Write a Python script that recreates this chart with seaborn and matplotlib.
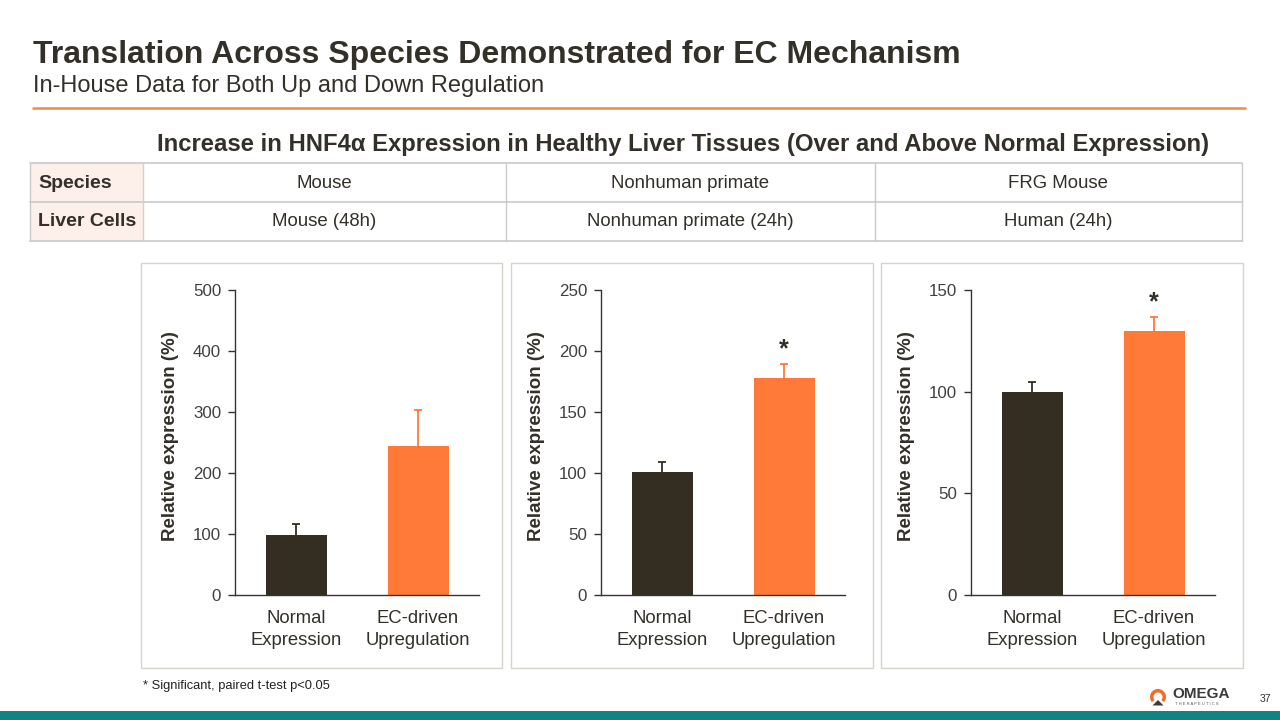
import numpy as np
import pandas as pd
import seaborn as sns
import matplotlib.pyplot as plt
from matplotlib.patches import Rectangle, Wedge, Polygon
from matplotlib.lines import Line2D

sns.set_theme(style="white")
plt.rcParams["font.family"] = ["Liberation Sans", "DejaVu Sans"]

# data
categories = ["Normal\nExpression", "EC-driven\nUpregulation"]
mouse_values = [98, 244]
mouse_err = [18, 59]
nhp_values = [101, 178]
nhp_err = [8, 11]
frg_values = [100, 130]
frg_err = [5, 6.5]
y_maxes = [500, 250, 150]
y_steps = [100, 50, 50]
significant = [False, True, True]

species_row = ["Mouse", "Nonhuman primate", "FRG Mouse"]
cells_row = ["Mouse (48h)", "Nonhuman primate (24h)", "Human (24h)"]

DARK = "#332E21"
ORANGE = "#FF7A39"
TEXT = "#333029"
GRAY = "#404040"

W, H = 1280, 720
fig = plt.figure(figsize=(12.8, 7.2), dpi=100)


def fx(x):
    return x / W


def fy(y):
    return 1 - y / H


def px_axes(x0, y0, x1, y1):
    return [fx(x0), fy(y1), fx(x1) - fx(x0), fy(y0) - fy(y1)]


# header
fig.text(fx(33), fy(55), "Translation Across Species Demonstrated for EC Mechanism",
         fontsize=23, fontweight="bold", color=TEXT, va="center", ha="left")
fig.text(fx(33), fy(86), "In-House Data for Both Up and Down Regulation",
         fontsize=17, color=TEXT, va="center", ha="left")
fig.add_artist(Line2D([fx(33), fx(1245)], [fy(108), fy(108)], color="#F08A4B", lw=1.8))

fig.text(fx(683), fy(144),
         "Increase in HNF4\u03b1 Expression in Healthy Liver Tissues (Over and Above Normal Expression)",
         fontsize=17.2, fontweight="bold", color=TEXT, va="center", ha="center")

# table
tbl_x = [30, 143, 506, 875, 1242]
tbl_y = [163, 202, 241]
line_c = "#C9C9C9"
fig.add_artist(Rectangle((fx(30), fy(241)), fx(143) - fx(30), fy(163) - fy(241),
                         facecolor="#FDEFE9", edgecolor="none"))
for y in tbl_y:
    fig.add_artist(Line2D([fx(30), fx(1242)], [fy(y), fy(y)], color=line_c, lw=1.2))
for x in tbl_x:
    c = "#E8C9BC" if x == 143 else line_c
    fig.add_artist(Line2D([fx(x), fx(x)], [fy(163), fy(241)], color=c, lw=1.0))
for row_y, label, cells in [(183, "Species", species_row), (222, "Liver Cells", cells_row)]:
    fig.text(fx(38), fy(row_y), label, fontsize=14, fontweight="bold", color=TEXT,
             va="center", ha="left")
    for i, txt in enumerate(cells):
        cx = (tbl_x[i + 1] + tbl_x[i + 2]) / 2
        fig.text(fx(cx), fy(row_y), txt, fontsize=13.4, color=TEXT, va="center", ha="center")

# chart panels
panels = [
    (141, 502, 235, 479, mouse_values, mouse_err),
    (511, 873, 601, 845, nhp_values, nhp_err),
    (881, 1243, 971, 1215, frg_values, frg_err),
]
for i, (bx0, bx1, ax0, ax1, vals, errs) in enumerate(panels):
    fig.add_artist(Rectangle((fx(bx0), fy(668)), fx(bx1) - fx(bx0), fy(263) - fy(668),
                             facecolor="none", edgecolor="#D6D3CB", lw=1.0))
    ax = fig.add_axes(px_axes(ax0, 290, ax1, 595))
    df = pd.DataFrame({"group": categories, "value": vals})
    sns.barplot(data=df, x="group", y="value", hue="group", palette=[DARK, ORANGE],
                width=0.5, errorbar=None, legend=False, ax=ax, saturation=1,
                linewidth=0)
    for j, c in enumerate([DARK, ORANGE]):
        top = vals[j] + errs[j]
        ax.vlines(j, vals[j], top, color=c, lw=1.3)
        ax.hlines(top, j - 0.03, j + 0.03, color=c, lw=1.3)
        if significant[i] and j == 1:
            ax.annotate("*", (j, top), xytext=(0, 2.5), textcoords="offset points",
                        ha="center", va="bottom", fontsize=18, fontweight="bold",
                        color=TEXT)
    ax.set_xlim(-0.5, 1.5)
    ax.set_ylim(0, y_maxes[i])
    ax.set_yticks(np.arange(0, y_maxes[i] + 1, y_steps[i]))
    ax.set_xlabel("")
    ax.set_ylabel("Relative expression (%)", fontsize=13.5, fontweight="bold",
                  color=TEXT)
    ax.yaxis.set_label_coords(-0.23, 0.52)
    ax.tick_params(axis="y", left=True, length=5, width=1, color="#333333",
                   labelsize=12.2, labelcolor=GRAY, pad=5)
    ax.tick_params(axis="x", bottom=False, labelsize=13.3, labelcolor=TEXT, pad=5)
    for lbl in ax.get_xticklabels():
        lbl.set_linespacing(1.35)
    for s in ["top", "right"]:
        ax.spines[s].set_visible(False)
    for s in ["left", "bottom"]:
        ax.spines[s].set_color("#333333")
        ax.spines[s].set_linewidth(1.0)
    ax.set_facecolor("none")

# footnote
fig.text(fx(143), fy(686), "* Significant, paired t-test p<0.05", fontsize=9.3,
         color="#222222", va="center", ha="left")

# logo
lax = fig.add_axes(px_axes(1148, 688, 1168, 708))
lax.set_xlim(-1, 1)
lax.set_ylim(-1, 1)
lax.set_aspect("equal")
lax.axis("off")
lax.add_patch(Wedge((0, 0.1), 0.8, -40, 220, width=0.35, facecolor="#F26B2A",
                    edgecolor="none"))
lax.add_patch(Polygon([[-0.55, -0.75], [0, -0.2], [0.55, -0.75]], closed=True,
                      facecolor="#3A3A3A", edgecolor="none"))
fig.text(fx(1172), fy(694), "OMEGA", fontsize=11, fontweight="bold", color="#3A3A3A",
         va="center", ha="left")
fig.text(fx(1175), fy(704), "T H E R A P E U T I C S", fontsize=3, color="#555555",
         va="center", ha="left")
fig.text(fx(1265), fy(699), "37", fontsize=7.5, color="#333333", va="center", ha="center")

# bottom band
fig.add_artist(Rectangle((0, 0), 1, fy(711), facecolor="#0E8582", edgecolor="none",
                         transform=fig.transFigure))

fig.savefig("out.png", dpi=100)
